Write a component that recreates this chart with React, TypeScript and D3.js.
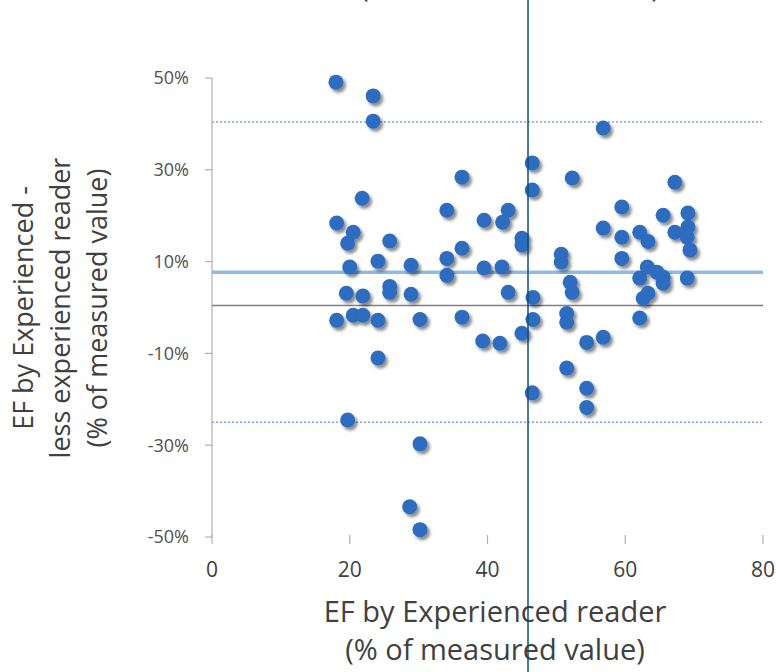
import React, { useEffect, useRef } from "react";
import * as d3 from "d3";

// EF by experienced reader (x) and difference experienced - less experienced (y), in %
const efExperienced = [
  18.0, 23.4, 23.4, 18.1, 21.8, 20.5, 19.7, 20.0, 19.5, 18.1,
  20.5, 21.9, 21.9, 24.1, 24.1, 25.8, 25.8, 25.8, 24.1, 19.7,
  28.9, 28.9, 30.2, 30.2, 28.7, 30.2, 34.1, 34.1, 34.1, 36.3,
  36.3, 36.3, 39.5, 39.5, 39.3, 42.2, 42.1, 43.0, 41.8, 43.0,
  45.0, 45.0, 45.0, 46.5, 46.5, 46.6, 46.6, 46.5, 52.3, 50.7,
  50.7, 51.5, 51.5, 51.5, 52.0, 52.3, 54.4, 54.4, 54.4, 56.8,
  56.8, 56.8, 59.5, 59.5, 59.5, 62.1, 63.3, 62.1, 62.1, 63.2,
  62.6, 63.3, 64.6, 65.5, 65.5, 67.2, 67.2, 69.1, 69.1, 69.0,
  69.4, 69.0, 65.5,
];
const efDifference = [
  49.1, 46.1, 40.6, 18.4, 23.8, 16.4, 14.0, 8.8, 3.1, -2.8,
  -1.7, 2.5, -1.7, 10.1, -2.8, 14.5, 4.6, 3.3, -11.0, -24.5,
  9.2, 2.9, -2.6, -29.7, -43.4, -48.4, 21.2, 10.7, 7.0, 28.4,
  12.9, -2.1, 19.0, 8.6, -7.3, 18.6, 8.8, 21.2, -7.8, 3.3,
  15.1, 13.6, -5.6, 31.5, 25.6, 2.2, -2.6, -18.6, 28.2, 11.6,
  9.9, -1.3, -3.2, -13.2, 5.5, 3.3, -7.6, -17.6, -21.8, -6.5,
  39.1, 17.3, 21.9, 15.3, 10.7, 16.4, 14.4, 6.4, -2.3, 8.8,
  2.0, 3.1, 7.7, 6.6, 20.1, 27.3, 16.4, 20.6, 17.5, 15.3,
  12.5, 6.4, 5.3,
];

const meanDiff = 7.7;
const limitsOfAgreement = [40.4, -25.0];

const xTicks = [0, 20, 40, 60, 80];
const yTicks = [-50, -30, -10, 10, 30, 50];

const yTitle = ["EF by Experienced -", "less experienced reader", "(% of measured value)"];
const xTitle = ["EF by Experienced reader", "(% of measured value)"];

const App = () => {
  const svgRef = useRef(null);

  useEffect(() => {
    document.body.style.margin = "0";
    const width = 776;
    const height = 672;
    const svg = d3.select(svgRef.current);
    svg.selectAll("*").remove();
    svg.attr("width", width).attr("height", height);

    const font = "'Open Sans', sans-serif";
    const x = d3.scaleLinear().domain([0, 80]).range([212, 763]);
    const y = d3.scaleLinear().domain([-50, 50]).range([537, 78]);

    const defs = svg.append("defs");
    defs
      .append("filter")
      .attr("id", "dot-shadow")
      .attr("x", "-50%")
      .attr("y", "-50%")
      .attr("width", "200%")
      .attr("height", "200%")
      .append("feDropShadow")
      .attr("dx", 2.5)
      .attr("dy", 3)
      .attr("stdDeviation", 1.8)
      .attr("flood-color", "#000")
      .attr("flood-opacity", 0.45);

    svg.append("rect").attr("width", width).attr("height", height).attr("fill", "#fff");

    // title, cut off by the top edge like in the picture
    svg
      .append("text")
      .attr("x", 510)
      .attr("y", -3)
      .attr("text-anchor", "middle")
      .style("font-family", font)
      .style("font-size", "29px")
      .style("fill", "#404040")
      .text("(% of measured value)");

    // y axis line + ticks
    svg
      .append("line")
      .attr("x1", x(0))
      .attr("x2", x(0))
      .attr("y1", y(50))
      .attr("y2", y(-50))
      .attr("stroke", "#b0b0b0")
      .attr("stroke-width", 1.2);
    yTicks.forEach((t) => {
      svg
        .append("line")
        .attr("x1", x(0) - 7)
        .attr("x2", x(0))
        .attr("y1", y(t))
        .attr("y2", y(t))
        .attr("stroke", "#b0b0b0")
        .attr("stroke-width", 1.2);
      svg
        .append("text")
        .attr("x", 189)
        .attr("y", y(t))
        .attr("dy", "0.35em")
        .attr("text-anchor", "end")
        .style("font-family", font)
        .style("font-size", "18px")
        .style("fill", "#505050")
        .text(`${t}%`);
    });

    // x ticks (no line at the bottom)
    xTicks.forEach((t) => {
      svg
        .append("line")
        .attr("x1", x(t))
        .attr("x2", x(t))
        .attr("y1", 535)
        .attr("y2", 544)
        .attr("stroke", "#b0b0b0")
        .attr("stroke-width", 1.2);
      svg
        .append("text")
        .attr("x", x(t))
        .attr("y", 570)
        .attr("dy", "0.35em")
        .attr("text-anchor", "middle")
        .style("font-family", font)
        .style("font-size", "21px")
        .style("fill", "#404040")
        .text(t);
    });

    // zero line
    svg
      .append("line")
      .attr("x1", x(0))
      .attr("x2", x(80))
      .attr("y1", y(0) - 2)
      .attr("y2", y(0) - 2)
      .attr("stroke", "#7f7f7f")
      .attr("stroke-width", 1.3);

    // limits of agreement
    limitsOfAgreement.forEach((v) => {
      svg
        .append("line")
        .attr("x1", x(0))
        .attr("x2", x(80))
        .attr("y1", y(v))
        .attr("y2", y(v))
        .attr("stroke", "#7ea6e6")
        .attr("stroke-width", 1.5)
        .attr("stroke-dasharray", "2,2");
    });

    // mean difference
    svg
      .append("line")
      .attr("x1", x(0))
      .attr("x2", x(80))
      .attr("y1", y(meanDiff))
      .attr("y2", y(meanDiff))
      .attr("stroke", "#8dbbe6")
      .attr("stroke-width", 3.5);

    // points
    svg
      .append("g")
      .attr("filter", "url(#dot-shadow)")
      .selectAll("circle")
      .data(efExperienced.map((v, i) => [v, efDifference[i]]))
      .join("circle")
      .attr("cx", (d) => x(d[0]))
      .attr("cy", (d) => y(d[1]))
      .attr("r", 7.5)
      .attr("fill", "#2d6cbf");

    // y axis title
    const yt = svg
      .append("text")
      .attr("transform", "translate(0,308) rotate(-90)")
      .attr("text-anchor", "middle")
      .style("font-family", font)
      .style("font-size", "27px")
      .style("fill", "#404040");
    yTitle.forEach((line, i) => {
      yt.append("tspan")
        .attr("x", 0)
        .attr("y", 33 + i * 37)
        .text(line);
    });

    // x axis title
    const xt = svg
      .append("text")
      .attr("text-anchor", "middle")
      .style("font-family", font)
      .style("font-size", "29px")
      .style("fill", "#404040");
    xTitle.forEach((line, i) => {
      xt.append("tspan")
        .attr("x", 495)
        .attr("y", 622 + i * 38)
        .text(line);
    });

    // dark vertical marker line across the whole picture
    svg
      .append("line")
      .attr("x1", 528)
      .attr("x2", 528)
      .attr("y1", 0)
      .attr("y2", height)
      .attr("stroke", "#0e4f6e")
      .attr("stroke-width", 1.5);
  }, []);

  return (
    <div style={{ position: "absolute", left: 0, top: 0 }}>
      <svg ref={svgRef}></svg>
    </div>
  );
};

export default App;
